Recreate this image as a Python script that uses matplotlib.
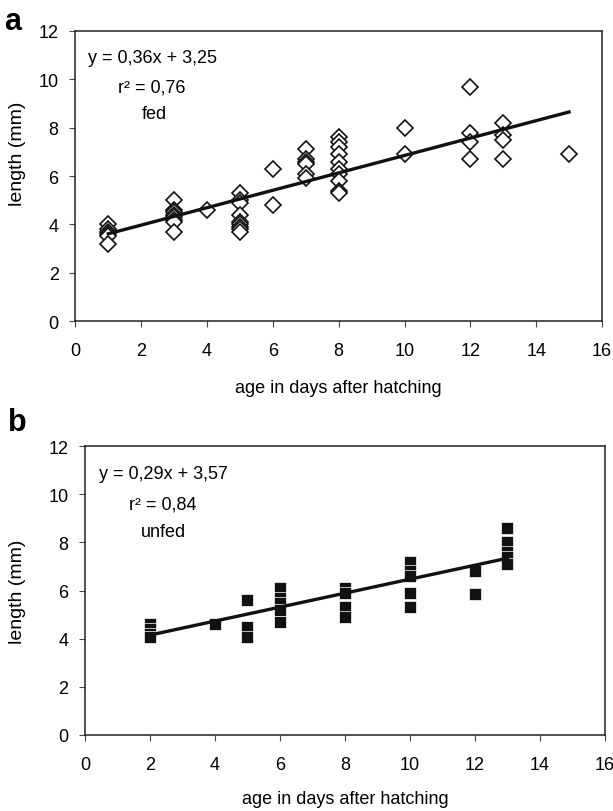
import numpy as np
import matplotlib
matplotlib.use("Agg")
import matplotlib.pyplot as plt

plt.rcParams['font.family'] = ['Liberation Sans', 'DejaVu Sans']

# fed larvae (panel a)
fed_age = [1, 1, 1, 1, 1, 1,
           3, 3, 3, 3, 3, 3, 3, 3,
           4,
           5, 5, 5, 5, 5, 5, 5, 5, 5,
           6, 6,
           7, 7, 7, 7, 7, 7,
           8, 8, 8, 8, 8, 8, 8, 8, 8, 8,
           10, 10,
           12, 12, 12, 12,
           13, 13, 13, 13,
           15]
fed_len = [4.0, 3.8, 3.7, 3.6, 3.5, 3.2,
           5.0, 4.6, 4.5, 4.4, 4.3, 4.2, 4.1, 3.7,
           4.6,
           5.3, 5.0, 4.9, 4.4, 4.1, 4.0, 3.9, 3.8, 3.7,
           6.3, 4.8,
           7.1, 6.7, 6.6, 6.5, 6.1, 5.9,
           7.6, 7.4, 7.2, 6.9, 6.6, 6.3, 6.1, 5.8, 5.4, 5.3,
           8.0, 6.9,
           9.7, 7.8, 7.4, 6.7,
           8.2, 7.7, 7.5, 6.7,
           6.9]

# unfed larvae (panel b)
unfed_age = [2, 2, 2, 2,
             4,
             5, 5, 5,
             6, 6, 6, 6, 6,
             8, 8, 8, 8,
             10, 10, 10, 10, 10,
             12, 12,
             13, 13, 13, 13, 13]
unfed_len = [4.6, 4.4, 4.2, 4.05,
             4.6,
             5.6, 4.5, 4.05,
             6.1, 5.7, 5.5, 5.2, 4.7,
             6.1, 5.9, 5.3, 4.9,
             7.2, 6.8, 6.6, 5.9, 5.3,
             6.8, 5.85,
             8.6, 8.0, 7.6, 7.4, 7.1]

# trendline coefficients as printed on the chart
fed_fit = (0.36, 3.25)
unfed_fit = (0.29, 3.57)
fed_text = ["y = 0,36x + 3,25", "r\u00b2 = 0,76", "fed"]
unfed_text = ["y = 0,29x + 3,57", "r\u00b2 = 0,84", "unfed"]

xticks = np.arange(0, 17, 2)
yticks = np.arange(0, 13, 2)

fig = plt.figure(figsize=(6.13, 8.12), dpi=100)
ax_a = fig.add_axes([0.123, 0.6034, 0.859, 0.3572])
ax_b = fig.add_axes([0.1387, 0.0936, 0.848, 0.3559])


def style_axes(ax, ylab_x, ylab_y, xlab_y):
    ax.set_xlim(0, 16)
    ax.set_ylim(0, 12)
    ax.set_xticks(xticks)
    ax.set_yticks(yticks)
    ax.tick_params(direction='out', length=4, width=0.8, labelsize=13,
                   top=False, right=False, color='#444444')
    ax.tick_params(axis='x', pad=11)
    ax.tick_params(axis='y', pad=8)
    for s in ax.spines.values():
        s.set_linewidth(1.1)
        s.set_color('#222222')
    ax.set_xlabel('age in days after hatching', fontsize=13)
    ax.set_ylabel('length (mm)', fontsize=14)
    ax.xaxis.set_label_coords(0.5, xlab_y)
    ax.yaxis.set_label_coords(ylab_x, ylab_y)


# panel a
ax_a.plot(fed_age, fed_len, linestyle='none', marker='D', markersize=8.3,
          markerfacecolor='white', markeredgecolor='#111111',
          markeredgewidth=1.2, zorder=2)
xa = np.array([min(fed_age), max(fed_age)])
ax_a.plot(xa, fed_fit[0] * xa + fed_fit[1], color='#111111', lw=2.4, zorder=3)
style_axes(ax_a, -0.094, 0.58, -0.2)
ax_a.text(0.024, 0.91, fed_text[0], transform=ax_a.transAxes, fontsize=13, va='center')
ax_a.text(0.081, 0.807, fed_text[1], transform=ax_a.transAxes, fontsize=13, va='center')
ax_a.text(0.126, 0.714, fed_text[2], transform=ax_a.transAxes, fontsize=13, va='center')

# panel b
ax_b.plot(unfed_age, unfed_len, linestyle='none', marker='s', markersize=8,
          markerfacecolor='#111111', markeredgecolor='white',
          markeredgewidth=0.5, zorder=2)
xb = np.array([min(unfed_age), max(unfed_age)])
ax_b.plot(xb, unfed_fit[0] * xb + unfed_fit[1], color='#111111', lw=2.4, zorder=3)
style_axes(ax_b, -0.113, 0.50, -0.19)
ax_b.text(0.027, 0.904, unfed_text[0], transform=ax_b.transAxes, fontsize=13, va='center')
ax_b.text(0.085, 0.80, unfed_text[1], transform=ax_b.transAxes, fontsize=13, va='center')
ax_b.text(0.108, 0.703, unfed_text[2], transform=ax_b.transAxes, fontsize=13, va='center')

fig.text(13 / 613, 1 - 22 / 812, 'a', fontsize=22, fontweight='bold', ha='center', va='center')
fig.text(17 / 613, 1 - 423 / 812, 'b', fontsize=22, fontweight='bold', ha='center', va='center')

fig.savefig('out.png', dpi=100)
